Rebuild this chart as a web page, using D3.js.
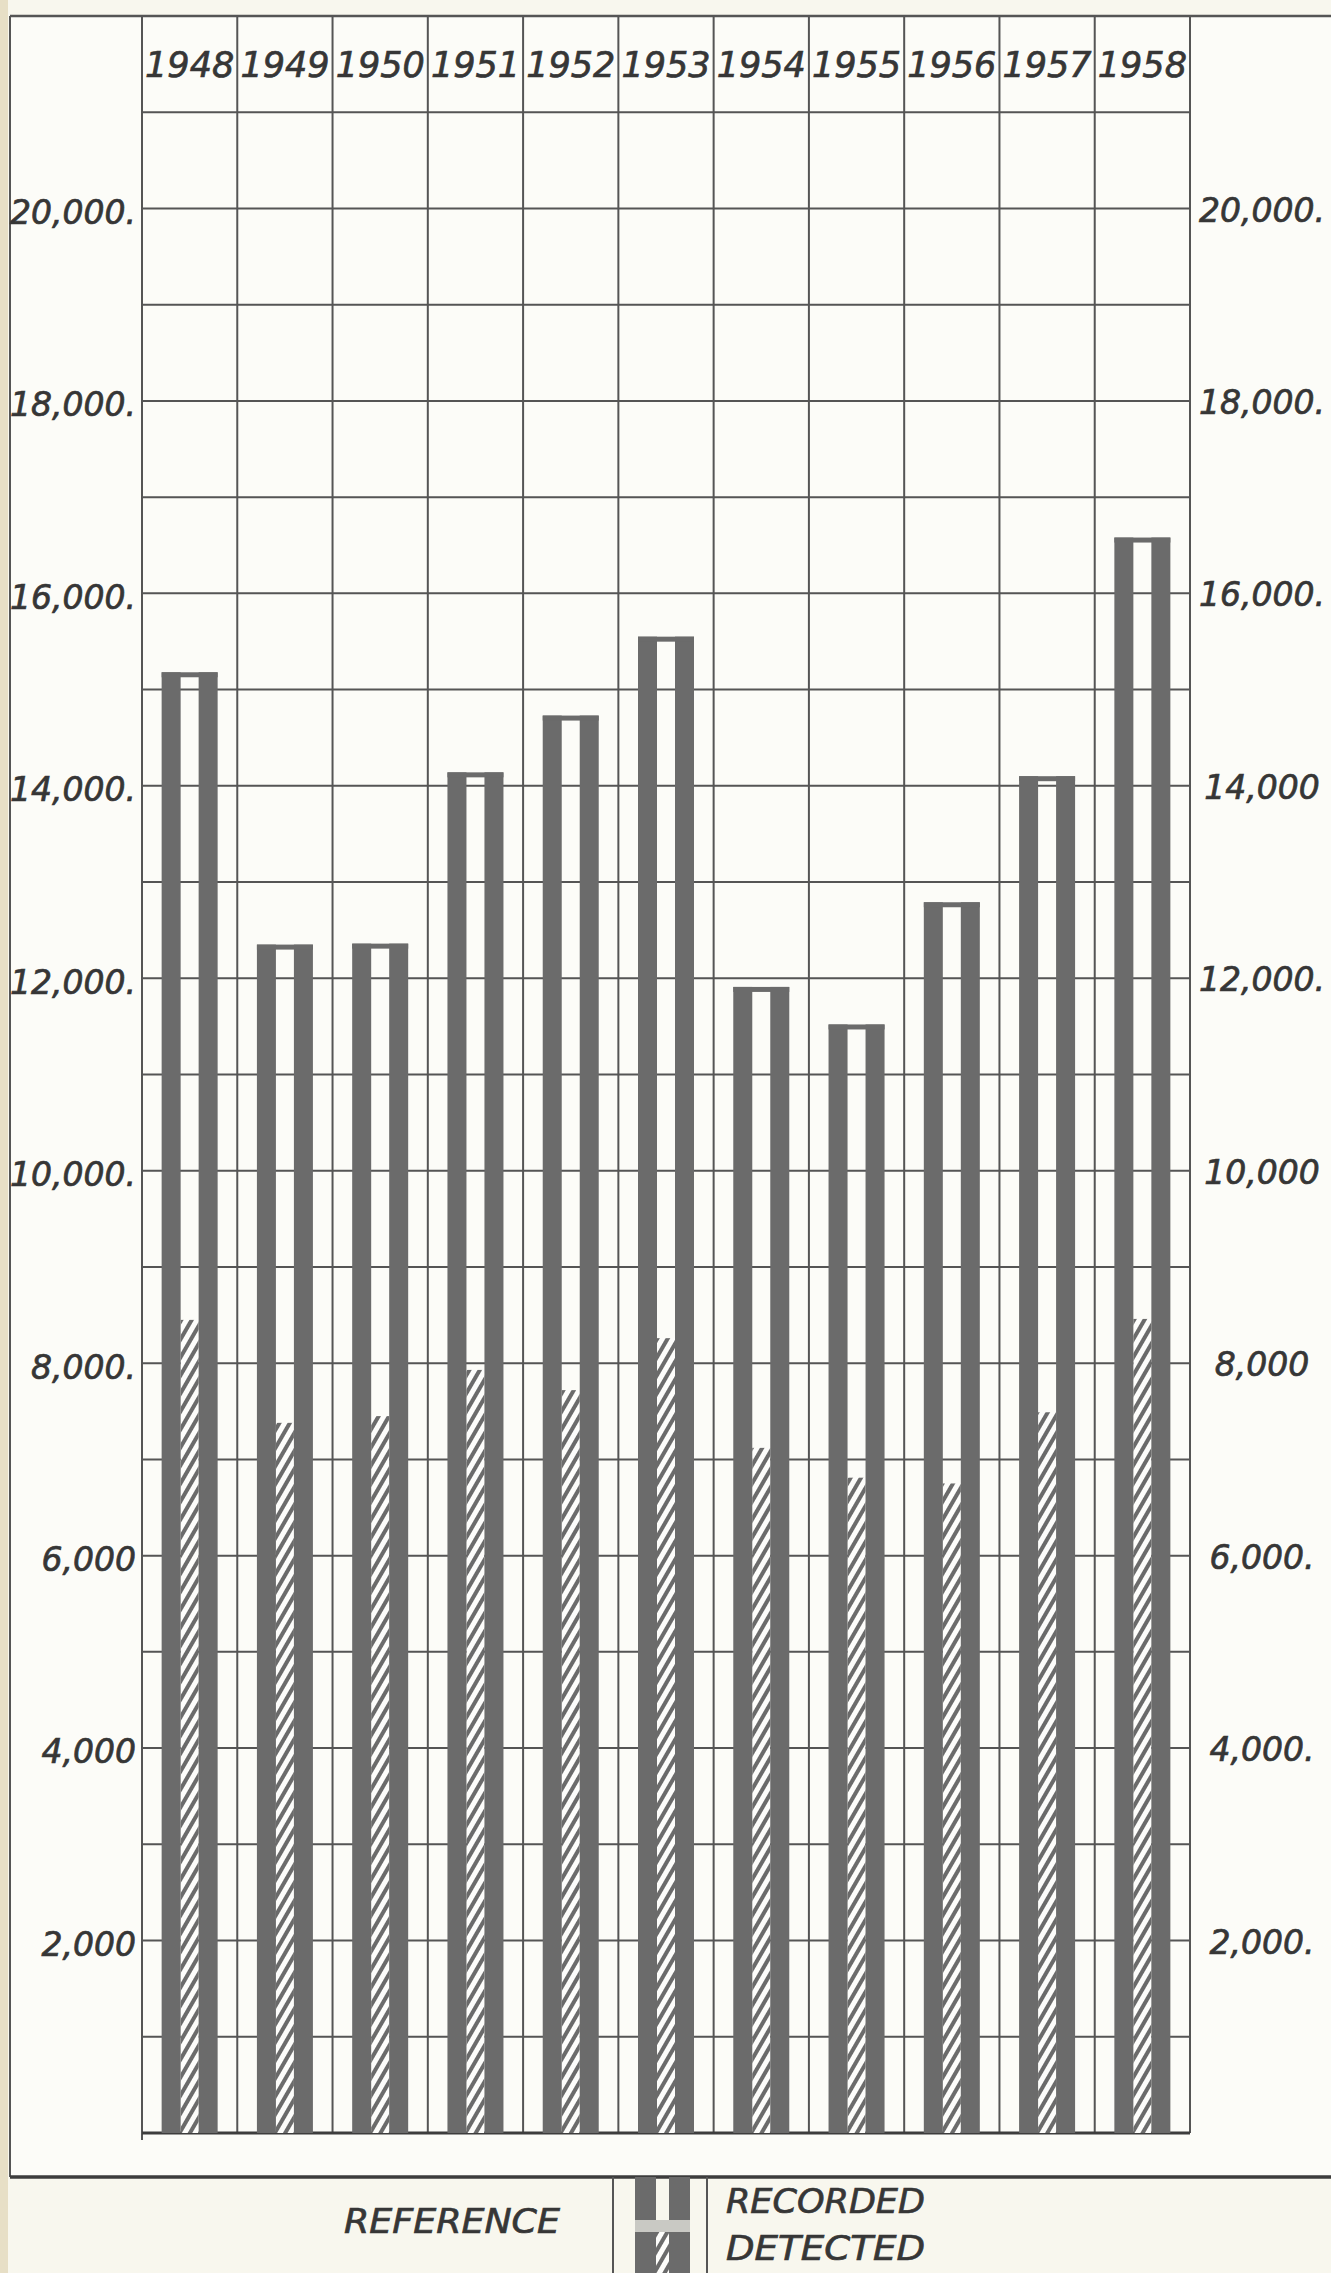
<!DOCTYPE html>
<html>
<head>
<meta charset="utf-8">
<script src="https://cdn.jsdelivr.net/npm/d3@7"></script>
<style>
	body { margin: 0; background: #f8f7ee; }
	text { font-family: "DejaVu Sans", sans-serif; font-style: italic; fill: #363636; stroke: #363636; stroke-width: 0.7px; }
</style>
</head>
<body>
<div id="my_dataviz"></div>
<script>
const years = ["1948", "1949", "1950", "1951", "1952", "1953", "1954", "1955", "1956", "1957", "1958"];
const recorded = [15180, 12350, 12360, 14140, 14730, 15550, 11910, 11520, 12790, 14100, 16580];
const detected = [8450, 7380, 7450, 7930, 7720, 8260, 7120, 6810, 6750, 7490, 8460];
const tickValues = [2000, 4000, 6000, 8000, 10000, 12000, 14000, 16000, 18000, 20000];
const leftLabels = ["2,000", "4,000", "6,000", "8,000.", "10,000.", "12,000.", "14,000.", "16,000.", "18,000.", "20,000."];
const rightLabels = ["2,000.", "4,000.", "6,000.", "8,000", "10,000", "12,000.", "14,000", "16,000.", "18,000.", "20,000."];
const legendLabels = ["RECORDED", "DETECTED"];

var W = 1331, H = 2273;
var left = 142, right = 1190;
var ink = "#555555", barFill = "#6b6b6b";

var svg = d3
	.select("#my_dataviz")
	.append("svg")
	.attr("width", W)
	.attr("height", H);

// paper
svg.append("rect").attr("width", W).attr("height", H).attr("fill", "#f8f7ee");
svg.append("rect").attr("width", 8).attr("height", H).attr("fill", "#e7dfc6");
svg.append("rect").attr("x", 10).attr("y", 15).attr("width", W - 10).attr("height", 2162).attr("fill", "#fcfcf8");

var defs = svg.append("defs");
var hatch = defs
	.append("pattern")
	.attr("id", "hatch")
	.attr("patternUnits", "userSpaceOnUse")
	.attr("width", 9)
	.attr("height", 9)
	.attr("patternTransform", "rotate(30)");
hatch.append("rect").attr("width", 9).attr("height", 9).attr("fill", "#fdfdfb");
hatch.append("rect").attr("x", 0).attr("width", 4).attr("height", 9).attr("fill", barFill);

var x = d3.scaleBand().domain(years).range([left, right]).padding(0);
var y = d3.scaleLinear().domain([0, 22000]).range([2133, 16]);

// horizontal grid every 1000
svg
	.append("g")
	.selectAll("line")
	.data(y.ticks(22).filter(function (d) { return d > 0 && d < 22000; }))
	.enter()
	.append("line")
	.attr("x1", left)
	.attr("x2", right)
	.attr("y1", function (d) { return y(d); })
	.attr("y2", function (d) { return y(d); })
	.attr("stroke", ink)
	.attr("stroke-width", 2);

// column lines
var cols = years.map(function (d) { return x(d); }).concat([right]);
svg
	.append("g")
	.selectAll("line")
	.data(cols)
	.enter()
	.append("line")
	.attr("x1", function (d) { return d; })
	.attr("x2", function (d) { return d; })
	.attr("y1", y(22000))
	.attr("y2", function (d, i) { return i == 0 ? 2140 : y(0); })
	.attr("stroke", ink)
	.attr("stroke-width", 2);

// outer frame
svg.append("line").attr("x1", 10).attr("x2", W).attr("y1", y(22000)).attr("y2", y(22000)).attr("stroke", ink).attr("stroke-width", 2.5);
svg.append("line").attr("x1", 10).attr("x2", 10).attr("y1", y(22000)).attr("y2", 2177).attr("stroke", ink).attr("stroke-width", 2);
svg.append("line").attr("x1", 10).attr("x2", W).attr("y1", 2177).attr("y2", 2177).attr("stroke", "#3d3d3d").attr("stroke-width", 3.5);
svg.append("line").attr("x1", left).attr("x2", right).attr("y1", y(0)).attr("y2", y(0)).attr("stroke", "#3d3d3d").attr("stroke-width", 3);

// bars: recorded = two dark stripes with a cap, detected = hatched centre
var barW = 56, gap = 18, stripe = (barW - gap) / 2, cap = 5;
var bars = svg
	.append("g")
	.selectAll("g")
	.data(years)
	.enter()
	.append("g")
	.attr("transform", function (d) {
		return "translate(" + (x(d) + x.bandwidth() / 2 - barW / 2) + ",0)";
	});

bars
	.append("rect")
	.attr("x", stripe)
	.attr("y", function (d, i) { return y(detected[i]); })
	.attr("width", gap)
	.attr("height", function (d, i) { return y(0) - y(detected[i]); })
	.attr("fill", "url(#hatch)");
bars
	.append("rect")
	.attr("x", 0)
	.attr("y", function (d, i) { return y(recorded[i]); })
	.attr("width", stripe)
	.attr("height", function (d, i) { return y(0) - y(recorded[i]); })
	.attr("fill", barFill);
bars
	.append("rect")
	.attr("x", stripe + gap)
	.attr("y", function (d, i) { return y(recorded[i]); })
	.attr("width", stripe)
	.attr("height", function (d, i) { return y(0) - y(recorded[i]); })
	.attr("fill", barFill);
bars
	.append("rect")
	.attr("x", 0)
	.attr("y", function (d, i) { return y(recorded[i]); })
	.attr("width", barW)
	.attr("height", cap)
	.attr("fill", barFill);

// year labels in the header row
var topAxis = svg
	.append("g")
	.attr("transform", "translate(0," + y(21500) + ")")
	.call(d3.axisTop(x).tickSize(0).tickPadding(0));
topAxis.select(".domain").remove();
topAxis
	.selectAll("text")
	.attr("dy", "0.38em")
	.attr("font-size", 35)
	.attr("font-family", null)
	.attr("fill", null);

// left and right value labels
var leftAxis = svg
	.append("g")
	.attr("transform", "translate(136,0)")
	.call(
		d3.axisLeft(y).tickValues(tickValues).tickSize(0).tickPadding(0)
			.tickFormat(function (d, i) { return leftLabels[i]; })
	);
leftAxis.select(".domain").remove();
leftAxis
	.selectAll("text")
	.attr("dy", "0.45em")
	.attr("font-size", 33)
	.attr("font-family", null)
	.attr("fill", null);

var rightAxis = svg
	.append("g")
	.attr("transform", "translate(1262,0)")
	.call(
		d3.axisRight(y).tickValues(tickValues).tickSize(0).tickPadding(0)
			.tickFormat(function (d, i) { return rightLabels[i]; })
	);
rightAxis.select(".domain").remove();
rightAxis
	.selectAll("text")
	.attr("text-anchor", "middle")
	.attr("dy", "0.38em")
	.attr("font-size", 33)
	.attr("font-family", null)
	.attr("fill", null);

// legend
svg.append("text").attr("x", 344).attr("y", 2233).attr("font-size", 34)
	.attr("textLength", 216).attr("lengthAdjust", "spacingAndGlyphs").text("REFERENCE");
svg.append("line").attr("x1", 613).attr("x2", 613).attr("y1", 2177).attr("y2", H).attr("stroke", ink).attr("stroke-width", 2);
svg.append("line").attr("x1", 707).attr("x2", 707).attr("y1", 2177).attr("y2", H).attr("stroke", ink).attr("stroke-width", 2);

var lx = 635, lw = 55, lg = 13, ls = (lw - lg) / 2;
var key = svg.append("g");
key.append("rect").attr("x", lx).attr("y", 2177).attr("width", ls).attr("height", 43).attr("fill", barFill);
key.append("rect").attr("x", lx + ls + lg).attr("y", 2177).attr("width", ls).attr("height", 43).attr("fill", barFill);
key.append("rect").attr("x", lx).attr("y", 2232).attr("width", ls).attr("height", H - 2232).attr("fill", barFill);
key.append("rect").attr("x", lx + ls + lg).attr("y", 2232).attr("width", ls).attr("height", H - 2232).attr("fill", barFill);
key.append("rect").attr("x", lx + ls).attr("y", 2232).attr("width", lg).attr("height", H - 2232).attr("fill", "url(#hatch)");
key.append("rect").attr("x", lx).attr("y", 2220).attr("width", lw).attr("height", 12).attr("fill", "#c9c9c4");

svg
	.selectAll("text.key")
	.data(legendLabels)
	.enter()
	.append("text")
	.attr("class", "key")
	.attr("x", 726)
	.attr("y", function (d, i) { return i == 0 ? 2213 : 2260; })
	.attr("font-size", 34)
	.attr("textLength", 199)
	.attr("lengthAdjust", "spacingAndGlyphs")
	.text(function (d) { return d; });
</script>
</body>
</html>
